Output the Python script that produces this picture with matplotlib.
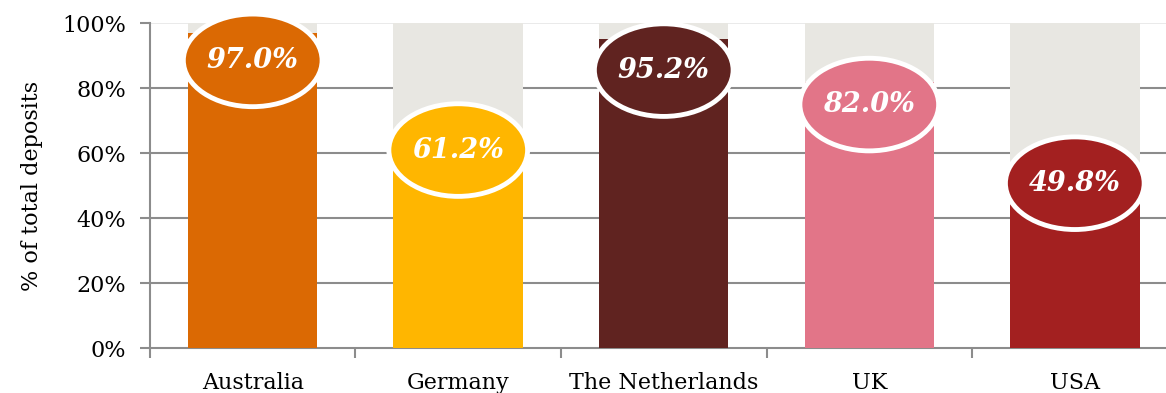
import matplotlib.pyplot as plt
from matplotlib.patches import Ellipse
from matplotlib.ticker import FixedLocator

# Share of total deposits covered, by country
countries = ['Australia', 'Germany', 'The Netherlands', 'UK', 'USA']
covered = [97.0, 61.2, 95.2, 82.0, 49.8]
y_ticks = [0, 20, 40, 60, 80, 100]
y_tick_labels = ['0%', '20%', '40%', '60%', '80%', '100%']

colors = ['#DB6903', '#FFB600', '#602320', '#E27588', '#A32020']
# vertical nudge of each value badge relative to the bar top
badge_shift = [-8.4, -0.2, -9.6, -7.0, 1.0]

plt.rcParams['font.family'] = ['DejaVu Serif']

fig = plt.figure(figsize=(11.66, 3.93), dpi=100)
ax = fig.add_axes([0.1286, 0.1137, 0.8813, 0.827])

x = list(range(len(countries)))
bar_w = 0.63

# grey "remainder" bars up to 100% and the coloured value bars on top
ax.bar(x, [100] * len(x), width=bar_w, color='#E8E7E2', zorder=2)
ax.bar(x, covered, width=bar_w, color=colors, zorder=3)

for xi, v, c, s in zip(x, covered, colors, badge_shift):
    yc = v + s
    ax.add_patch(Ellipse((xi, yc), 0.675, 28.5, facecolor=c, edgecolor='white',
                         linewidth=3.5, zorder=4, clip_on=False))
    ax.text(xi, yc, f'{v:.1f}%', ha='center', va='center', color='white',
            fontsize=19.5, fontweight='bold', fontstyle='italic', zorder=5,
            clip_on=False)

ax.set_xlim(-0.5, 4.5)
ax.set_ylim(0, 100)

ax.set_yticks(y_ticks)
ax.set_yticklabels(y_tick_labels, fontsize=16)
ax.set_xticks(x)
ax.set_xticklabels(countries, fontsize=16)
ax.xaxis.set_minor_locator(FixedLocator([i + 0.5 for i in range(-1, 5)]))
ax.tick_params(axis='x', which='major', length=0, pad=17)
ax.tick_params(axis='x', which='minor', length=7, width=1.5, color='#8C8C8C')
ax.tick_params(axis='y', length=7, width=1.5, color='#8C8C8C', pad=10)

# horizontal gridlines behind the bars; the 100% line is paler
for t in y_ticks[1:-1]:
    ax.axhline(t, color='#8C8C8C', linewidth=1.5, zorder=1)
ax.axhline(100, color='#E6E6E6', linewidth=1.2, zorder=1)

for side in ['top', 'right']:
    ax.spines[side].set_visible(False)
for side in ['left', 'bottom']:
    ax.spines[side].set_color('#8C8C8C')
    ax.spines[side].set_linewidth(1.5)

ax.set_ylabel('% of total deposits', fontsize=16, labelpad=14)

fig.savefig('out.png', dpi=100)
